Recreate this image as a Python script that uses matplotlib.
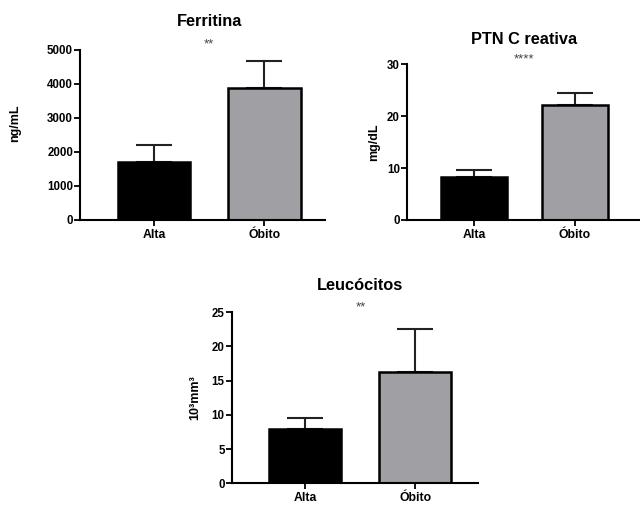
import numpy as np
import matplotlib
matplotlib.use("Agg")
import matplotlib.pyplot as plt
from matplotlib import font_manager as fm

# drop condensed variants so bold Liberation Sans is the normal width one
fm.fontManager.ttflist = [f for f in fm.fontManager.ttflist if "Narrow" not in f.fname]
plt.rcParams['font.family'] = ['Liberation Sans', 'DejaVu Sans']
plt.rcParams['font.weight'] = 'bold'

groups = ["Alta", "Óbito"]
colors = ["#000000", "#a0a0a4"]

ferritina = [1700, 3880]
ferritina_err = [500, 800]
ptn = [8.35, 22.2]
ptn_err = [1.3, 2.3]
leuco = [8.0, 16.2]
leuco_err = [1.5, 6.4]

fig = plt.figure(figsize=(6.4, 5.05), dpi=100)


def panel(rect, vals, errs, title, ylabel, stars, ymax, yticks, xright, star_y, title_y):
    ax = fig.add_axes(rect)
    x = np.arange(len(groups))
    ax.bar(x, vals, width=0.655, color=colors, edgecolor="black", linewidth=1.8, zorder=2)
    ax.errorbar(x, vals, yerr=[np.zeros(len(errs)), errs], fmt="none", ecolor="#222222",
                elinewidth=1.5, capsize=13, capthick=1.5, zorder=1)
    ax.set_xlim(-0.67, xright)
    ax.set_ylim(0, ymax)
    ax.set_yticks(yticks)
    ax.set_xticks(x)
    ax.set_xticklabels(groups, fontsize=8.8, fontweight="bold")
    ax.tick_params(axis="y", labelsize=8.3, width=1.3, length=4, direction="out", pad=1)
    ax.tick_params(axis="x", width=1.3, length=4, direction="out", pad=2.5)
    for lbl in ax.get_yticklabels():
        lbl.set_fontweight("bold")
    for s in ["top", "right"]:
        ax.spines[s].set_visible(False)
    for s in ["left", "bottom"]:
        ax.spines[s].set_linewidth(1.5)
    ax.set_ylabel(ylabel, fontsize=9, fontweight="bold")
    ax.text(0.5, title_y, title, transform=ax.get_xaxis_transform(), ha="center", va="center",
            fontsize=11.8, fontweight="bold", clip_on=False)
    ax.text(0.5, star_y, stars, transform=ax.get_xaxis_transform(), ha="center", va="center",
            fontsize=9.5, color="#444444", fontweight="normal", clip_on=False)
    return ax


ax1 = panel([0.125, 0.5644, 0.383, 0.3366], ferritina, ferritina_err, "Ferritina", "ng/mL", "**",
            5000, [0, 1000, 2000, 3000, 4000, 5000], 1.55, 1.03, 1.165)
ax1.yaxis.set_label_coords(-0.24, 0.57)
ax2 = panel([0.6355, 0.5644, 0.3645, 0.3083], ptn, ptn_err, "PTN C reativa", "mg/dL", "****",
            30, [0, 10, 20, 30], 1.65, 1.03, 1.16)
ax2.yaxis.set_label_coords(-0.114, 0.5)
ax3 = panel([0.362, 0.043, 0.385, 0.3386], leuco, leuco_err, "Leucócitos", "10³mm³", "**",
            25, [0, 5, 10, 15, 20, 25], 1.57, 1.03, 1.154)
ax3.yaxis.set_label_coords(-0.122, 0.5)

fig.savefig("out.png", dpi=100)
